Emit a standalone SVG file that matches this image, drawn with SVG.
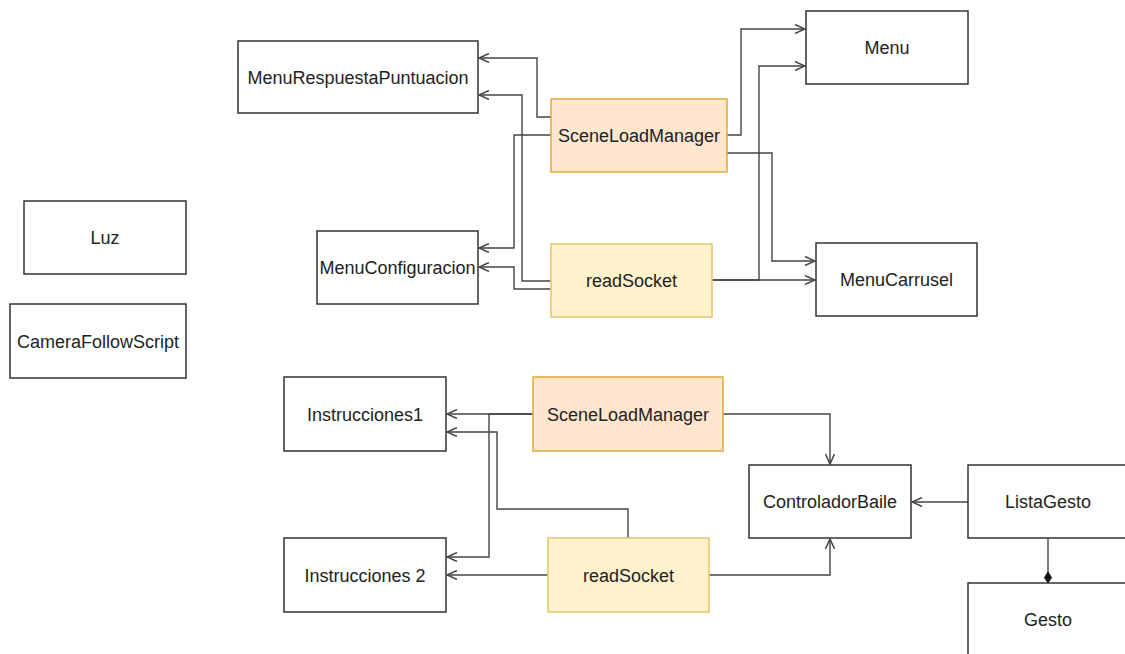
<svg xmlns="http://www.w3.org/2000/svg" width="1125" height="654" viewBox="0 0 1125 654">
<style>
.box{fill:#ffffff;stroke:#333333;stroke-width:1.5}
.slm{fill:#ffe6cc;stroke:#e0a93a;stroke-width:1.5}
.rs{fill:#fff2cc;stroke:#e3c56b;stroke-width:1.5}
.lbl{font-family:"Liberation Sans",Arial,sans-serif;font-size:18px;fill:#222222;text-anchor:middle}
.c{fill:none;stroke:#444444;stroke-width:1.4}
</style>
<defs>
<marker id="open" viewBox="0 0 12 10" refX="11" refY="5" markerWidth="12" markerHeight="10" markerUnits="userSpaceOnUse" orient="auto">
<path d="M1,0.5 L11,5 L1,9.5" fill="none" stroke="#444444" stroke-width="1.5"/>
</marker>
<marker id="diamond" viewBox="0 0 12 8" refX="11.5" refY="4" markerWidth="12" markerHeight="8" markerUnits="userSpaceOnUse" orient="auto">
<path d="M0.5,4 L6,0.5 L11.5,4 L6,7.5 Z" fill="#111111" stroke="#111111" stroke-width="1"/>
</marker>
</defs>
<g id="connectors">
<path class="c" d="M551,117 H537 V58 H479" marker-end="url(#open)"/>
<path class="c" d="M551,281 H522 V95 H479" marker-end="url(#open)"/>
<path class="c" d="M551,135 H514 V248 H479" marker-end="url(#open)"/>
<path class="c" d="M551,289 H514 V267 H479" marker-end="url(#open)"/>
<path class="c" d="M727,135 H741 V29 H805" marker-end="url(#open)"/>
<path class="c" d="M712,280 H759 V66 H805" marker-end="url(#open)"/>
<path class="c" d="M727,153 H772 V261 H815" marker-end="url(#open)"/>
<path class="c" d="M712,280 H815" marker-end="url(#open)"/>
<path class="c" d="M533,414 H447" marker-end="url(#open)"/>
<path class="c" d="M533,414 H489 V557 H447" marker-end="url(#open)"/>
<path class="c" d="M628,538 V509 H497 V432 H447" marker-end="url(#open)"/>
<path class="c" d="M548,575 H447" marker-end="url(#open)"/>
<path class="c" d="M723,414 H830 V464" marker-end="url(#open)"/>
<path class="c" d="M709,575 H830 V539" marker-end="url(#open)"/>
<path class="c" d="M968,502 H912" marker-end="url(#open)"/>
<path class="c" d="M1048,538 V583" marker-end="url(#diamond)"/>
</g>
<g id="MenuRespuestaPuntuacion"><rect class="box" x="238" y="41" width="240" height="72"/><text class="lbl" x="358" y="83.5">MenuRespuestaPuntuacion</text></g>
<g id="MenuConfiguracion"><rect class="box" x="317" y="231" width="161" height="73"/><text class="lbl" x="397.5" y="274">MenuConfiguracion</text></g>
<g id="SceneLoadManager1"><rect class="slm" x="551" y="99" width="176" height="73"/><text class="lbl" x="639" y="142">SceneLoadManager</text></g>
<g id="readSocket1"><rect class="rs" x="551" y="244" width="161" height="73"/><text class="lbl" x="631.5" y="287">readSocket</text></g>
<g id="Menu"><rect class="box" x="806" y="11" width="162" height="73"/><text class="lbl" x="887" y="54">Menu</text></g>
<g id="MenuCarrusel"><rect class="box" x="816" y="243" width="161" height="73"/><text class="lbl" x="896.5" y="286">MenuCarrusel</text></g>
<g id="Luz"><rect class="box" x="24" y="201" width="162" height="73"/><text class="lbl" x="105" y="244">Luz</text></g>
<g id="CameraFollowScript"><rect class="box" x="10" y="304" width="176" height="74"/><text class="lbl" x="98" y="347.5">CameraFollowScript</text></g>
<g id="Instrucciones1"><rect class="box" x="284" y="377" width="162" height="74"/><text class="lbl" x="365" y="420.5">Instrucciones1</text></g>
<g id="Instrucciones2"><rect class="box" x="284" y="538" width="162" height="74"/><text class="lbl" x="365" y="581.5">Instrucciones 2</text></g>
<g id="SceneLoadManager2"><rect class="slm" x="533" y="377" width="190" height="74"/><text class="lbl" x="628" y="420.5">SceneLoadManager</text></g>
<g id="readSocket2"><rect class="rs" x="548" y="538" width="161" height="74"/><text class="lbl" x="628.5" y="581.5">readSocket</text></g>
<g id="ControladorBaile"><rect class="box" x="749" y="465" width="162" height="73"/><text class="lbl" x="830" y="508">ControladorBaile</text></g>
<g id="ListaGesto"><rect class="box" x="968" y="465" width="160" height="73"/><text class="lbl" x="1048" y="508">ListaGesto</text></g>
<g id="Gesto"><rect class="box" x="968" y="583" width="160" height="74"/><text class="lbl" x="1048" y="625.5">Gesto</text></g>
</svg>
